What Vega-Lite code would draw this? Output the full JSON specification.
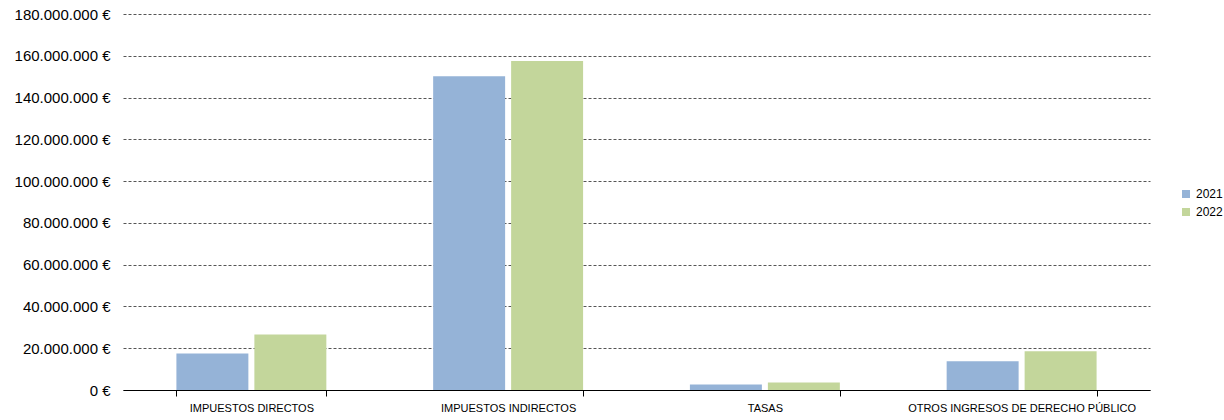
{
  "$schema": "https://vega.github.io/schema/vega-lite/v6.json",
  "width": 1027,
  "height": 376,
  "autosize": {"type": "none"},
  "padding": {"left": 123, "top": 14, "right": 74, "bottom": 30},
  "background": "white",
  "data": {
    "values": [
      {"concepto": "IMPUESTOS DIRECTOS", "anio": "2021", "importe": 17500000},
      {"concepto": "IMPUESTOS DIRECTOS", "anio": "2022", "importe": 26600000},
      {"concepto": "IMPUESTOS INDIRECTOS", "anio": "2021", "importe": 150200000},
      {"concepto": "IMPUESTOS INDIRECTOS", "anio": "2022", "importe": 157500000},
      {"concepto": "TASAS", "anio": "2021", "importe": 2600000},
      {"concepto": "TASAS", "anio": "2022", "importe": 3600000},
      {"concepto": "OTROS INGRESOS DE DERECHO PÚBLICO", "anio": "2021", "importe": 13800000},
      {"concepto": "OTROS INGRESOS DE DERECHO PÚBLICO", "anio": "2022", "importe": 18600000}
    ]
  },
  "mark": {"type": "bar"},
  "encoding": {
    "x": {
      "field": "concepto",
      "type": "nominal",
      "sort": null,
      "title": null,
      "scale": {"paddingInner": 0.416, "paddingOuter": 0.208},
      "axis": {
        "labelAngle": 0,
        "labelFont": "Liberation Sans",
        "labelFontSize": 11,
        "labelColor": "#000000",
        "labelPadding": 6,
        "labelLimit": 0,
        "tickBand": "extent",
        "tickColor": "#000000",
        "tickSize": 6,
        "domainColor": "#000000",
        "domainWidth": 1,
        "grid": false
      }
    },
    "xOffset": {
      "field": "anio",
      "type": "nominal",
      "scale": {"paddingInner": 0.077, "paddingOuter": 0}
    },
    "y": {
      "field": "importe",
      "type": "quantitative",
      "title": null,
      "scale": {"domain": [0, 180000000], "nice": false},
      "axis": {
        "values": [0, 20000000, 40000000, 60000000, 80000000, 100000000, 120000000, 140000000, 160000000, 180000000],
        "labelExpr": "replace(replace(replace(format(datum.value, ',.0f'), ',', '.'), ',', '.'), ',', '.') + ' €'",
        "labelFont": "Liberation Sans",
        "labelFontSize": 15,
        "labelColor": "#000000",
        "labelPadding": 13,
        "labelLimit": 0,
        "ticks": false,
        "domain": false,
        "grid": true,
        "gridColor": "#555555",
        "gridDash": [3, 2],
        "gridWidth": 1
      }
    },
    "color": {
      "field": "anio",
      "type": "nominal",
      "title": null,
      "scale": {"domain": ["2021", "2022"], "range": ["#95b3d7", "#c3d69b"]},
      "legend": {
        "orient": "none",
        "legendX": 1057,
        "legendY": 174,
        "symbolType": "square",
        "symbolSize": 64,
        "symbolStrokeWidth": 0,
        "labelFont": "Liberation Sans",
        "labelFontSize": 12,
        "labelColor": "#000000",
        "rowPadding": 6
      }
    }
  },
  "config": {
    "view": {"stroke": null}
  }
}
